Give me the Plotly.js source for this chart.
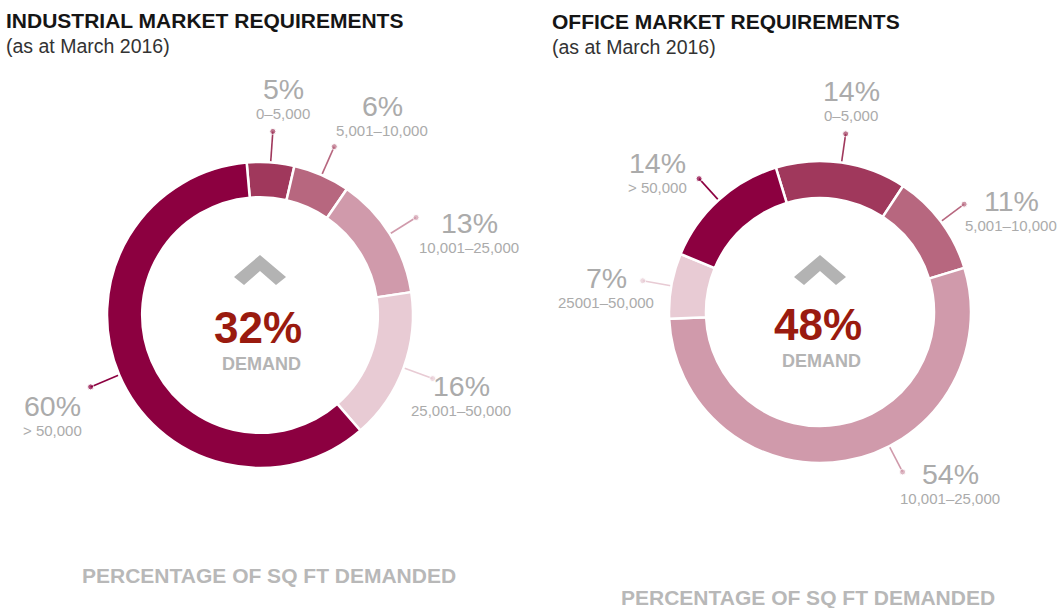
<!DOCTYPE html>
<html><head><meta charset="utf-8">
<script src="https://cdn.plot.ly/plotly-3.0.1.min.js"></script>
<style>html,body{margin:0;padding:0;background:#fff;} #chart{width:1059px;height:608px;}</style>
</head><body><div id="chart"></div>
<script>
// ---------- DATA ----------
const indCategories = ['0–5,000', '5,001–10,000', '10,001–25,000', '25,001–50,000', '> 50,000'];
const indValues = [5, 6, 13, 16, 60];
const indDemand = '32%';

const offCategories = ['0–5,000', '5,001–10,000', '10,001–25,000', '25001–50,000', '> 50,000'];
const offValues = [14, 11, 54, 7, 14];
const offDemand = '48%';

const indTitle = 'INDUSTRIAL MARKET REQUIREMENTS';
const offTitle = 'OFFICE MARKET REQUIREMENTS';
const subTitle = '(as at March 2016)';
const demandWord = 'DEMAND';
const footerText = 'PERCENTAGE OF SQ FT DEMANDED';

// ---------- STYLE / LAYOUT ----------
const W = 1059, H = 608;
const sliceColors = ['#A0385C', '#B7677F', '#D09AAB', '#E8CBD4', '#8C0040'];
const FONT = 'Liberation Sans, Arial, Helvetica, sans-serif';
const GREY = '#ababab';

const charts = [
  {title: indTitle, cats: indCategories, vals: indValues, demand: indDemand,
   titleX: 4, titleY: 20, subY: 46,
   cx: 260, cy: 315, r: 153, hole: 0.77, rotation: -5, leadLen: 31,
   leaderFrac: [0.5, 0.5, 0.5, 0.5, 0.5],
   labelPos: [[283, 89], [382, 106], [469, 223], [461, 386], [52, 406]],
   footX: 269, footY: 575},
  {title: offTitle, cats: offCategories, vals: offValues, demand: offDemand,
   titleX: 550, titleY: 21, subY: 47,
   cx: 820, cy: 312, r: 151, hole: 0.755, rotation: -17, leadLen: 29,
   leaderFrac: [0.5, 0.5, 0.41, 0.5, 0.5],
   labelPos: [[851, 91], [1011, 201], [950, 474], [606, 278], [657, 163]],
   footX: 808, footY: 597}
];

const traces = [];
const annotations = [];
const shapes = [];

charts.forEach(c => {
  const total = c.vals.reduce((a, b) => a + b, 0);
  traces.push({
    type: 'pie', values: c.vals, labels: c.cats,
    marker: {colors: sliceColors, line: {color: '#ffffff', width: 2.5}},
    hole: c.hole, sort: false, direction: 'clockwise', rotation: c.rotation,
    textinfo: 'none', hoverinfo: 'skip', showlegend: false,
    domain: {x: [(c.cx - c.r) / W, (c.cx + c.r) / W], y: [(H - c.cy - c.r) / H, (H - c.cy + c.r) / H]}
  });
  // leader lines
  let cum = 0;
  c.vals.forEach((v, i) => {
    const ang = (c.rotation + 360 * (cum + c.leaderFrac[i] * v) / total) * Math.PI / 180;
    cum += v;
    const r0 = c.r - 1, r1 = c.r + c.leadLen;
    traces.push({
      type: 'scatter', mode: 'lines+markers', xaxis: 'x', yaxis: 'y',
      x: [c.cx + r0 * Math.sin(ang), c.cx + r1 * Math.sin(ang)],
      y: [c.cy - r0 * Math.cos(ang), c.cy - r1 * Math.cos(ang)],
      line: {color: sliceColors[i], width: 1.6},
      marker: {color: sliceColors[i], size: [0, 6]},
      hoverinfo: 'skip', showlegend: false
    });
    const [lx, ly] = c.labelPos[i];
    annotations.push({x: lx, y: ly, xref: 'x', yref: 'y', text: v + '%', showarrow: false,
      xanchor: 'center', yanchor: 'middle', font: {family: FONT, size: 28.5, color: GREY}});
    annotations.push({x: lx, y: ly + 24, xref: 'x', yref: 'y', text: c.cats[i], showarrow: false,
      xanchor: 'center', yanchor: 'middle', font: {family: FONT, size: 15, color: GREY}});
  });
  // titles
  annotations.push({x: c.titleX, y: c.titleY, xref: 'x', yref: 'y', text: '<b>' + c.title + '</b>', showarrow: false,
    xanchor: 'left', yanchor: 'middle', font: {family: FONT, size: 21, color: '#151515'}});
  annotations.push({x: c.titleX, y: c.subY, xref: 'x', yref: 'y', text: subTitle, showarrow: false,
    xanchor: 'left', yanchor: 'middle', font: {family: FONT, size: 19.5, color: '#333333'}});
  // centre
  annotations.push({x: c.cx - 2, y: c.cy + 12, xref: 'x', yref: 'y', text: '<b>' + c.demand + '</b>', showarrow: false,
    xanchor: 'center', yanchor: 'middle', font: {family: FONT, size: 44, color: '#9a1b0f'}});
  annotations.push({x: c.cx + 1, y: c.cy + 49, xref: 'x', yref: 'y', text: '<b>' + demandWord + '</b>', showarrow: false,
    xanchor: 'center', yanchor: 'middle', font: {family: FONT, size: 18, color: '#b4b4b4'}});
  // footer
  annotations.push({x: c.footX, y: c.footY, xref: 'x', yref: 'y', text: '<b>' + footerText + '</b>', showarrow: false,
    xanchor: 'center', yanchor: 'middle', font: {family: FONT, size: 21, color: '#b8b8b8'}});
  // chevron
  const ax = c.cx, ay = 255;
  shapes.push({type: 'path', xref: 'x', yref: 'y', fillcolor: '#b3b3b3', line: {width: 0},
    path: `M ${ax - 26} ${ay + 22} L ${ax} ${ay} L ${ax + 26} ${ay + 22} L ${ax + 16} ${ay + 30} L ${ax} ${ay + 16} L ${ax - 16} ${ay + 30} Z`});
});

const layout = {
  width: W, height: H, margin: {l: 0, r: 0, t: 0, b: 0},
  paper_bgcolor: '#ffffff', plot_bgcolor: 'rgba(0,0,0,0)', showlegend: false,
  xaxis: {range: [0, W], visible: false, fixedrange: true},
  yaxis: {range: [H, 0], visible: false, fixedrange: true},
  annotations, shapes
};

Plotly.newPlot('chart', traces, layout, {displayModeBar: false, staticPlot: true});
</script>
</body></html>
